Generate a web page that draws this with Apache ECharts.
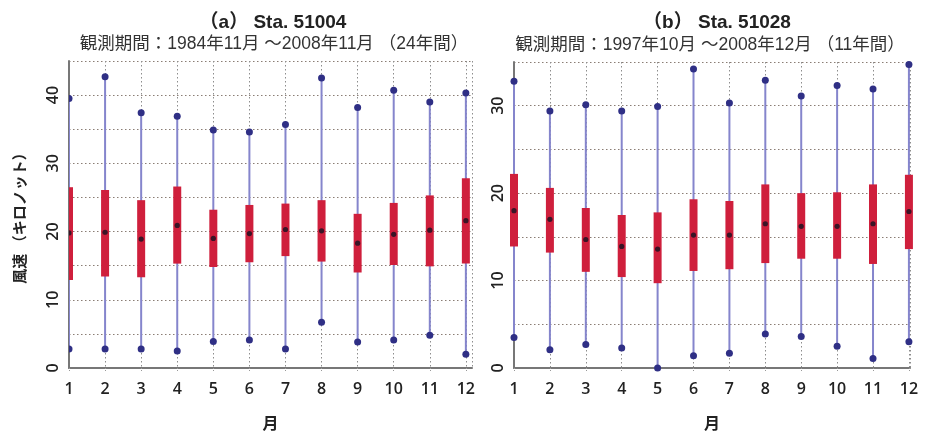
<!DOCTYPE html>
<html>
<head>
<meta charset="utf-8">
<script src="https://cdn.jsdelivr.net/npm/echarts@6/dist/echarts.min.js"></script>
<style>
  html, body { margin: 0; padding: 0; background: #fff; }
  #chart { width: 929px; height: 436px; }
</style>
</head>
<body>
<div id="chart"></div>
<script>
// Monthly wind-speed statistics (kilo-knots): minimum, lower quartile, median, upper quartile, maximum
const months = [1, 2, 3, 4, 5, 6, 7, 8, 9, 10, 11, 12];

// Sta. 51004
const aMin = [2.8, 2.8, 2.8, 2.5, 3.9, 4.1, 2.8, 6.7, 3.8, 4.1, 4.8, 2.0];
const aQ1  = [12.9, 13.4, 13.3, 15.3, 14.8, 15.5, 16.4, 15.6, 14.0, 15.1, 14.9, 15.3];
const aMed = [19.8, 19.9, 18.9, 20.9, 19.0, 19.7, 20.3, 20.1, 18.3, 19.6, 20.2, 21.6];
const aQ3  = [26.5, 26.1, 24.6, 26.6, 23.2, 23.9, 24.1, 24.6, 22.6, 24.2, 25.3, 27.8];
const aMax = [39.5, 42.7, 37.4, 36.9, 34.9, 34.6, 35.7, 42.5, 38.2, 40.7, 39.0, 40.3];

// Sta. 51028
const bMin = [3.5, 2.1, 2.7, 2.3, 0.0, 1.4, 1.7, 3.9, 3.6, 2.5, 1.1, 3.0];
const bQ1  = [13.9, 13.2, 11.0, 10.4, 9.7, 11.1, 11.3, 12.0, 12.5, 12.5, 11.9, 13.6];
const bMed = [18.0, 17.0, 14.7, 13.9, 13.6, 15.2, 15.2, 16.5, 16.2, 16.2, 16.5, 17.9];
const bQ3  = [22.2, 20.6, 18.3, 17.5, 17.8, 19.3, 19.1, 21.0, 20.0, 20.1, 21.0, 22.1];
const bMax = [32.8, 29.4, 30.1, 29.4, 29.9, 34.2, 30.3, 32.9, 31.1, 32.3, 31.9, 34.7];

const yTicksA = [0, 10, 20, 30, 40];
const yTicksB = [0, 10, 20, 30];

const titleA = '（a） Sta. 51004';
const subA = '観測期間：1984年11月 ～2008年11月 （24年間）';
const titleB = '（b） Sta. 51028';
const subB = '観測期間：1997年10月 ～2008年12月 （11年間）';
const yName = '風速 （キロノット）';
const xName = '月';

function rows(mn, q1, md, q3, mx) {
  return months.map((m, i) => [m, mn[i], q1[i], md[i], q3[i], mx[i]]);
}

const LATIN = '"Liberation Sans", "Noto Sans CJK JP", sans-serif';
const TICK = '"Open Sans", "Noto Sans CJK JP", sans-serif';

// One month: whisker from min to max, quartile box, median dot, end dots
function renderBox(params, api) {
  const x = api.value(0);
  const lo = api.coord([x, api.value(1)]);
  const q1 = api.coord([x, api.value(2)]);
  const md = api.coord([x, api.value(3)]);
  const q3 = api.coord([x, api.value(4)]);
  const hi = api.coord([x, api.value(5)]);
  const bw = 8;
  return {
    type: 'group',
    children: [
      { type: 'line', shape: { x1: lo[0], y1: lo[1], x2: hi[0], y2: hi[1] },
        style: { stroke: '#8585cc', lineWidth: 2 } },
      { type: 'rect', shape: { x: q3[0] - bw / 2, y: q3[1], width: bw, height: q1[1] - q3[1] },
        style: { fill: '#cf1f3c' } },
      { type: 'circle', shape: { cx: md[0], cy: md[1], r: 2.6 }, style: { fill: '#3a1426' } },
      { type: 'circle', shape: { cx: hi[0], cy: hi[1], r: 3.5 }, style: { fill: '#2f2f85' } },
      { type: 'circle', shape: { cx: lo[0], cy: lo[1], r: 3.5 }, style: { fill: '#2f2f85' } }
    ]
  };
}

function xAxisCfg(gridIndex, max) {
  return {
    type: 'value', gridIndex, min: 1, max, interval: 1,
    name: xName, nameLocation: 'middle', nameGap: 47,
    nameTextStyle: { fontFamily: '"Noto Sans CJK JP", sans-serif', fontSize: 16, fontWeight: 'bold', color: '#222' },
    axisLine: { show: true, onZero: false, lineStyle: { color: '#777', width: 2 } },
    axisTick: { show: true, length: 4, lineStyle: { color: '#999', type: 'dotted' } },
    axisLabel: {
      margin: 13, fontFamily: TICK, fontSize: 16, fontWeight: 600, color: '#222',
      showMaxLabel: false,
      formatter: v => (Number.isInteger(v) && months.indexOf(v) >= 0) ? String(v) : ''
    },
    splitLine: { show: true, lineStyle: { color: '#8d8d8d', type: [1.5, 2.5], width: 1 } }
  };
}

function yAxisCfg(gridIndex, max, ticks, withName) {
  const cfg = {
    type: 'value', gridIndex, min: 0, max, interval: 5,
    axisLine: { show: true, lineStyle: { color: '#777', width: 2 } },
    axisTick: { show: false },
    axisLabel: {
      rotate: 90, margin: 8, fontFamily: TICK, fontSize: 16, fontWeight: 600, color: '#222',
      formatter: v => ticks.indexOf(v) >= 0 ? String(v) : ''
    },
    splitLine: { show: true, lineStyle: { color: '#8a7d74', type: [1.5, 2.5], width: 1 } }
  };
  if (withName) {
    cfg.name = yName;
    cfg.nameLocation = 'middle';
    cfg.nameGap = 42;
    cfg.nameRotate = 90;
    cfg.nameTextStyle = { fontFamily: '"Noto Sans CJK JP", sans-serif', fontSize: 15, fontWeight: 'bold', color: '#222' };
  }
  return cfg;
}

const chart = echarts.init(document.getElementById('chart'), null, { renderer: 'canvas' });

chart.setOption({
  backgroundColor: '#fff',
  animation: false,
  title: [
    { text: titleA, left: 268, top: 8, textAlign: 'center',
      textStyle: { fontFamily: LATIN, fontSize: 19, fontWeight: 'bold', color: '#222' } },
    { text: subA, left: 269, top: 30, textAlign: 'center',
      textStyle: { fontFamily: LATIN, fontSize: 17.5, fontWeight: 'normal', color: '#333' } },
    { text: titleB, left: 712, top: 8, textAlign: 'center',
      textStyle: { fontFamily: LATIN, fontSize: 19, fontWeight: 'bold', color: '#222' } },
    { text: subB, left: 705, top: 31, textAlign: 'center',
      textStyle: { fontFamily: LATIN, fontSize: 17.5, fontWeight: 'normal', color: '#333' } }
  ],
  grid: [
    { left: 69, top: 61, width: 403, height: 313 },
    { left: 514, top: 62, width: 396, height: 313 }
  ],
  xAxis: [xAxisCfg(0, 12.17), xAxisCfg(1, 12.03)],
  yAxis: [yAxisCfg(0, 45, yTicksA, true), yAxisCfg(1, 35, yTicksB, false)],
  series: [
    { type: 'custom', xAxisIndex: 0, yAxisIndex: 0, clip: true,
      renderItem: renderBox, encode: { x: 0, y: [1, 2, 3, 4, 5] },
      data: rows(aMin, aQ1, aMed, aQ3, aMax) },
    { type: 'custom', xAxisIndex: 1, yAxisIndex: 1, clip: false,
      renderItem: renderBox, encode: { x: 0, y: [1, 2, 3, 4, 5] },
      data: rows(bMin, bQ1, bMed, bQ3, bMax) }
  ]
});
</script>
</body>
</html>
